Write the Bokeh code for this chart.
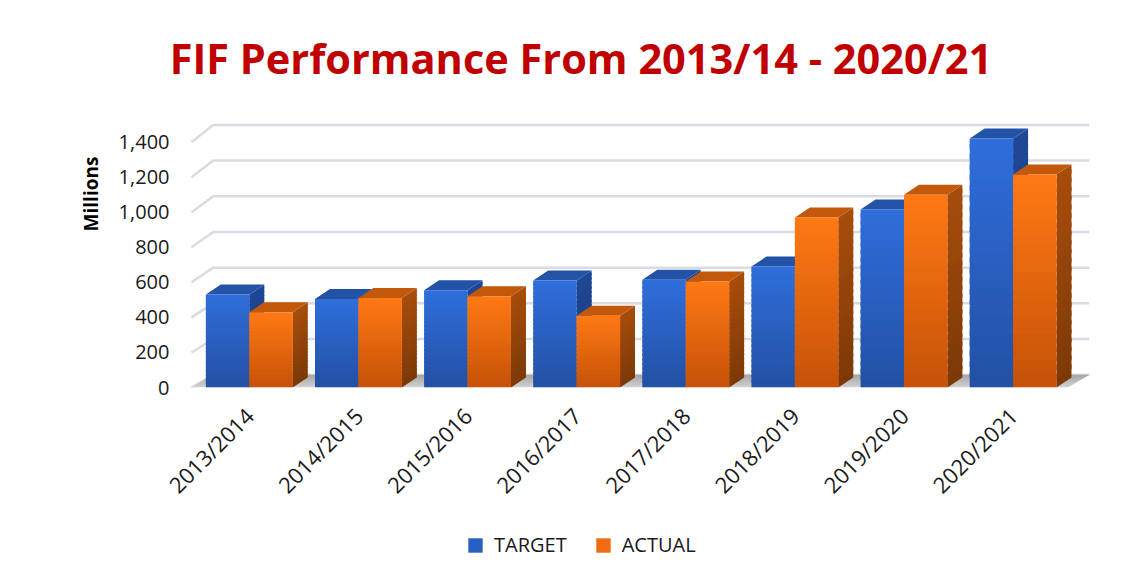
import math
from bokeh.plotting import figure
from bokeh.layouts import column
from bokeh.models import (FixedTicker, NumeralTickFormatter, Legend, LegendItem,
                          Label, Range1d)
from bokeh.embed import file_html
from bokeh.resources import INLINE

# ---------------- data ----------------
years = ["2013/2014", "2014/2015", "2015/2016", "2016/2017",
         "2017/2018", "2018/2019", "2019/2020", "2020/2021"]
target = [530, 505, 555, 610, 615, 690, 1015, 1420]
actual = [430, 510, 520, 410, 605, 970, 1100, 1215]
y_ticks = [0, 200, 400, 600, 800, 1000, 1200, 1400]
series_names = ["TARGET", "ACTUAL"]
title_text = "FIF Performance From 2013/14 - 2020/21"
y_title = "Millions"

# ---------------- style / layout ----------------
W = 1135
H_MAIN, H_LEG = 518, 50
FRAME_L, FRAME_R, FRAME_H = 165, 1089, 387
X_START = -0.238
GROUP_OFFSET = 0.53
BAR_W = 0.398
BAR_DX = 0.137      # pseudo-3D depth of bars (x data units)
BAR_DY = 57         # pseudo-3D depth of bars (y data units)
WALL_DX = 0.2       # depth of back wall
WALL_DY0 = 73
WALL_K = 1.018
FLOOR_RIGHT = 8.03
X_END = 8.23
Y_END = 2208
N_SLICES = 24

BLUE_TOP, BLUE_BOT = "#2f6edb", "#2350a4"
BLUE_SIDE_TOP, BLUE_SIDE_BOT = "#1f4796", "#1b3c7e"
BLUE_CAP = "#2253a6"
ORG_TOP, ORG_BOT = "#ff7914", "#c55208"
ORG_SIDE_TOP, ORG_SIDE_BOT = "#a84d0c", "#7b3907"
ORG_CAP = "#c3580b"
GRID_COLOR = "#d9dbe3"
FONT = "Open Sans"


def hex2rgb(h):
    h = h.lstrip("#")
    return tuple(int(h[i:i + 2], 16) for i in (0, 2, 4))


def lerp(c1, c2, t):
    a, b = hex2rgb(c1), hex2rgb(c2)
    return "#%02x%02x%02x" % tuple(int(round(a[i] + (b[i] - a[i]) * t)) for i in range(3))


p = figure(width=W, height=H_MAIN, title_location=None,
           x_range=Range1d(X_START, X_END), y_range=Range1d(0, Y_END),
           output_backend="svg", toolbar_location=None,
           min_border_left=FRAME_L, min_border_right=W - FRAME_R,
           min_border_top=0, min_border_bottom=H_MAIN - FRAME_H)
p.xgrid.visible = False
p.ygrid.visible = False
p.outline_line_color = None
p.background_fill_color = "white"
p.border_fill_color = "white"

# ---------------- back wall gridlines ----------------
gx, gy = [], []
for t in y_ticks:
    yb = WALL_DY0 + WALL_K * t
    gx.append([0, WALL_DX, X_END])
    gy.append([t, yb, yb])
p.multi_line(gx, gy, line_color=GRID_COLOR, line_width=2.5)

# ---------------- floor ----------------
fx, fy, fc = [], [], []
NF = 8
for k in range(NF):
    t0, t1 = k / NF, min(1.0, (k + 1.5) / NF)
    fx.append([WALL_DX * t0, FLOOR_RIGHT + WALL_DX * t0, FLOOR_RIGHT + WALL_DX * t1, WALL_DX * t1])
    fy.append([WALL_DY0 * t0, WALL_DY0 * t0, WALL_DY0 * t1, WALL_DY0 * t1])
    fc.append(lerp("#d2d2d2", "#a4a4a4", (k + 0.5) / NF))
p.patches(fx, fy, fill_color=fc, line_color=None)


# ---------------- bars ----------------
def draw_series(vals, left_off, ftop, fbot, stop, sbot, cap):
    xs, ys, cs = [], [], []
    for i, v in enumerate(vals):
        x0 = i + GROUP_OFFSET + left_off
        x1 = x0 + BAR_W
        for k in range(N_SLICES):
            y0 = v * k / N_SLICES
            y1 = v * min(1.0, (k + 1.5) / N_SLICES)
            xs.append([x1, x1 + BAR_DX, x1 + BAR_DX, x1])
            ys.append([y0, y0 + BAR_DY, y1 + BAR_DY, y1])
            cs.append(lerp(sbot, stop, (k + 0.5) / N_SLICES))
        xs.append([x0, x1, x1 + BAR_DX, x0 + BAR_DX])
        ys.append([v, v, v + BAR_DY, v + BAR_DY])
        cs.append(cap)
    p.patches(xs, ys, fill_color=cs, line_color=None)
    L, R, B, T, C = [], [], [], [], []
    for i, v in enumerate(vals):
        x0 = i + GROUP_OFFSET + left_off
        for k in range(N_SLICES):
            L.append(x0)
            R.append(x0 + BAR_W)
            B.append(v * k / N_SLICES)
            T.append(v * min(1.0, (k + 1.5) / N_SLICES))
            C.append(lerp(fbot, ftop, (k + 0.5) / N_SLICES))
    p.quad(left=L, right=R, bottom=B, top=T, fill_color=C, line_color=None)


draw_series(target, -BAR_W, BLUE_TOP, BLUE_BOT, BLUE_SIDE_TOP, BLUE_SIDE_BOT, BLUE_CAP)
draw_series(actual, 0.0, ORG_TOP, ORG_BOT, ORG_SIDE_TOP, ORG_SIDE_BOT, ORG_CAP)

# ---------------- axes ----------------
xticks = [i + GROUP_OFFSET for i in range(len(years))]
p.xaxis.ticker = FixedTicker(ticks=xticks)
p.xaxis.major_label_overrides = {x: lab for x, lab in zip(xticks, years)}
p.xaxis.major_label_orientation = math.pi / 4
p.xaxis.major_label_text_font = FONT
p.xaxis.major_label_text_font_size = "22px"
p.xaxis.major_label_text_color = "#1a1a1a"
p.xaxis.major_label_standoff = 24
p.xaxis.major_tick_out = 0
p.xaxis.major_tick_in = 0
p.xaxis.axis_line_color = None
p.xaxis.major_tick_line_color = None
p.xaxis.minor_tick_line_color = None

p.yaxis.ticker = FixedTicker(ticks=y_ticks)
p.yaxis.formatter = NumeralTickFormatter(format="0,0")
p.yaxis.major_label_text_font = FONT
p.yaxis.major_label_text_font_size = "20px"
p.yaxis.major_label_text_color = "#1a1a1a"
p.yaxis.major_label_standoff = -4
p.yaxis.major_tick_out = 0
p.yaxis.major_tick_in = 0
p.yaxis.axis_line_color = None
p.yaxis.major_tick_line_color = None
p.yaxis.minor_tick_line_color = None
p.yaxis.axis_label = y_title
p.yaxis.axis_label_text_font = FONT
p.yaxis.axis_label_text_font_style = "bold"
p.yaxis.axis_label_text_font_size = "19px"
p.yaxis.axis_label_text_color = "#000000"
p.yaxis.axis_label_standoff = 12

# ---------------- title (inside the frame area) ----------------
p.add_layout(Label(x=3.57, y=1881, text=title_text,
                   text_font=FONT, text_font_style="bold", text_font_size="41.5px",
                   text_color="#c00000", text_align="center", text_baseline="alphabetic"))

# ---------------- legend (separate strip below) ----------------
lg = figure(width=W, height=H_LEG, title_location=None,
            x_range=Range1d(0, 1), y_range=Range1d(0, 1),
            x_axis_location=None, y_axis_location=None,
            output_backend="svg", toolbar_location=None,
            min_border_left=0, min_border_right=0, min_border_top=0, min_border_bottom=0)
lg.xgrid.visible = False
lg.ygrid.visible = False
lg.outline_line_color = None
lg.background_fill_color = "white"
lg.border_fill_color = "white"
nan = float("nan")
r_t = lg.quad(left=[nan], right=[nan], top=[nan], bottom=[nan], fill_color="#2a5fc2", line_color=None)
r_a = lg.quad(left=[nan], right=[nan], top=[nan], bottom=[nan], fill_color="#ef6c10", line_color=None)
legend = Legend(items=[LegendItem(label=series_names[0], renderers=[r_t]),
                       LegendItem(label=series_names[1], renderers=[r_a])],
                orientation="horizontal", location=(466 - FRAME_L, 10),
                padding=0, margin=0, spacing=27, glyph_width=18, glyph_height=18,
                label_standoff=10, label_text_font=FONT, label_text_font_size="20px",
                label_text_color="#1a1a1a",
                border_line_color=None, background_fill_alpha=0)
lg.add_layout(legend, "center")

layout = column(p, lg, spacing=0)
open("out.html", "w").write(file_html(layout, INLINE))
